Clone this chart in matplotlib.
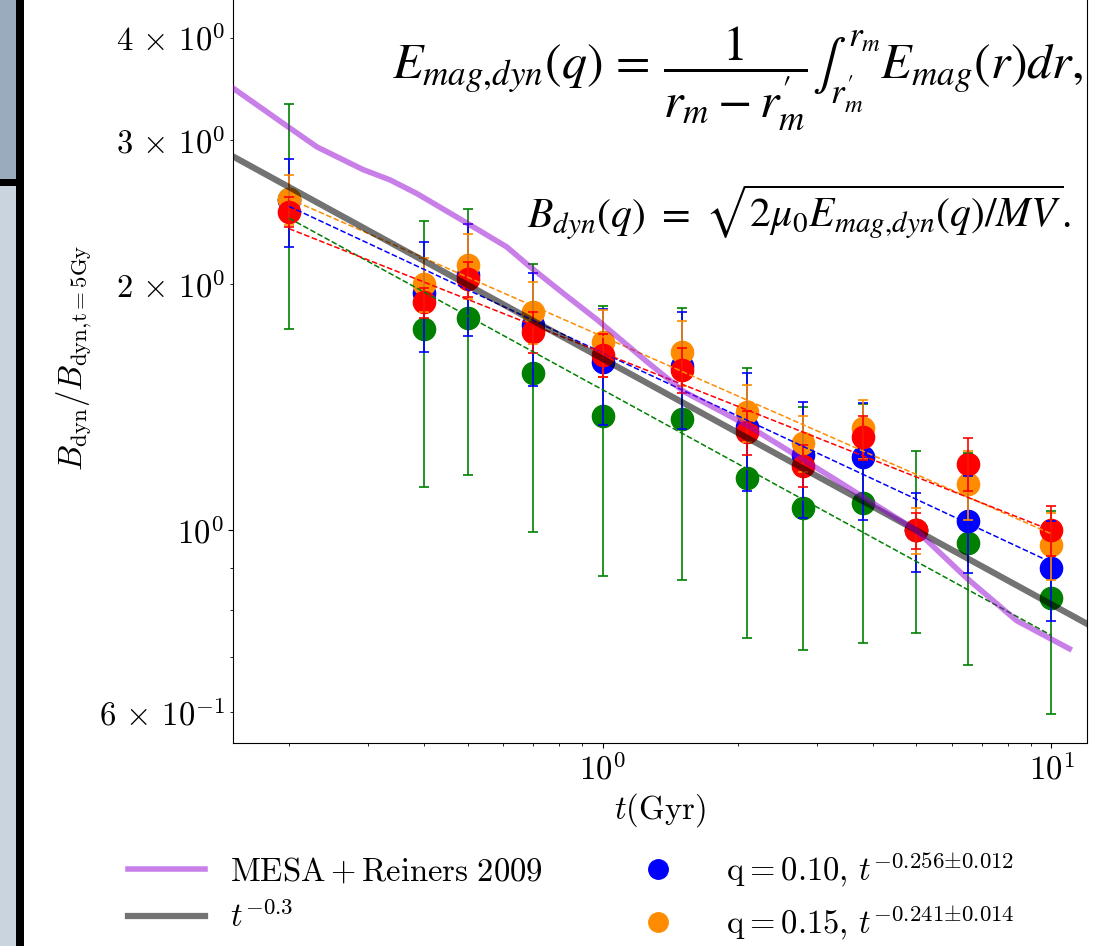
import numpy as np
import matplotlib.pyplot as plt
from matplotlib.patches import Rectangle
from matplotlib.lines import Line2D
from matplotlib.ticker import FuncFormatter

plt.rcParams['font.family'] = 'serif'
plt.rcParams['font.serif'] = ['cmr10']
plt.rcParams['mathtext.fontset'] = 'cm'
plt.rcParams['axes.formatter.use_mathtext'] = True
plt.rcParams['axes.unicode_minus'] = False

# ages (Gyr)
t_age = [0.2, 0.4, 0.5, 0.7, 1.0, 1.5, 2.1, 2.8, 3.8, 5.0, 6.5, 10.0]

# B_dyn / B_dyn(t=5 Gyr) for each q, with errors
q_labels = ['q = 0.05', 'q = 0.10', 'q = 0.15', 'q = 0.20']
q_colors = ['green', 'blue', 'darkorange', 'red']
b_q005 = [2.54, 1.76, 1.82, 1.556, 1.38, 1.37, 1.16, 1.064, 1.079, 1.0, 0.964, 0.826]
b_q010 = [2.53, 1.95, 2.05, 1.78, 1.605, 1.59, 1.336, 1.235, 1.23, 1.0, 1.026, 0.901]
b_q015 = [2.54, 2.00, 2.11, 1.85, 1.70, 1.65, 1.394, 1.278, 1.333, 1.0, 1.14, 0.959]
b_q020 = [2.45, 1.90, 2.03, 1.746, 1.64, 1.57, 1.318, 1.20, 1.30, 1.0, 1.207, 1.0]
e_q005 = [0.78, 0.63, 0.65, 0.56, 0.50, 0.50, 0.42, 0.35, 0.35, 0.25, 0.28, 0.23]
e_q010 = [0.31, 0.30, 0.32, 0.28, 0.26, 0.26, 0.22, 0.20, 0.20, 0.11, 0.14, 0.125]
e_q015 = [0.18, 0.15, 0.19, 0.16, 0.16, 0.15, 0.11, 0.10, 0.11, 0.065, 0.11, 0.09]
e_q020 = [0.105, 0.08, 0.10, 0.10, 0.10, 0.10, 0.08, 0.07, 0.08, 0.05, 0.09, 0.07]

# power-law fits A * t^-p
fit_amp = [1.485, 1.648, 1.725, 1.648]
fit_exp = [0.300, 0.256, 0.241, 0.217]
fit_err = [0.020, 0.012, 0.014, 0.013]

# MESA + Reiners 2009 curve
mesa_t = [0.150, 0.201, 0.231, 0.292, 0.336, 0.385, 0.488, 0.611, 0.688, 0.815,
          0.97, 1.25, 1.51, 2.12, 3.25, 5.0, 6.45, 8.36, 10.96]
mesa_b = [3.47, 3.10, 2.94, 2.76, 2.68, 2.58, 2.39, 2.22, 2.10, 1.95,
          1.81, 1.61, 1.48, 1.34, 1.16, 1.0, 0.876, 0.776, 0.717]

FS = 23.5
W, H = 1115, 946
def fx(x):
    return x / W
def fy(y):
    return 1 - y / H

fig = plt.figure(figsize=(W / 100, H / 100), dpi=100)

# slide background on the left
fig.add_artist(Rectangle((0, fy(179)), fx(16), 1 - fy(179), transform=fig.transFigure,
                         color='#9aabbd', lw=0))
fig.add_artist(Rectangle((0, 0), fx(16), fy(186), transform=fig.transFigure,
                         color='#c9d4de', lw=0))
fig.add_artist(Rectangle((0, fy(186)), fx(16), fy(179) - fy(186), transform=fig.transFigure,
                         color='black', lw=0))
fig.add_artist(Rectangle((fx(16), 0), fx(8), 1, transform=fig.transFigure,
                         color='black', lw=0))

ylo, yhi = 0.55, 4.8
y0, dec = 530, 818
top_px = y0 - np.log10(yhi) * dec
ax = fig.add_axes([fx(233), fy(743), fx(1087 - 233), (743 - top_px) / H])
ax.set_xscale('log')
ax.set_yscale('log')
ax.set_xlim(0.15, 12)
ax.set_ylim(ylo, yhi)

series_b = [b_q005, b_q010, b_q015, b_q020]
series_e = [e_q005, e_q010, e_q015, e_q020]

for b, c in zip(series_b, q_colors):
    ax.plot(t_age, b, 'o', color=c, ms=16, zorder=2)
for b, e, c in zip(series_b, series_e, q_colors):
    ax.errorbar(t_age, b, yerr=e, fmt='none', ecolor=c, elinewidth=1.2,
                capsize=3.5, capthick=1.2, zorder=2.5)

tt = np.array([t_age[0], t_age[-1]])
for A, p, c in zip(fit_amp, fit_exp, q_colors):
    ax.plot(tt, A * tt ** (-p), '--', color=c, lw=1.1, zorder=3)

tg = np.array([0.15, 12])
ax.plot(tg, (tg / 5.0) ** (-0.3), color='k', alpha=0.55, lw=4.5, zorder=4)
ax.plot(mesa_t, mesa_b, color='darkviolet', alpha=0.5, lw=4, zorder=5)


def ylog_fmt(v, pos):
    e = int(np.floor(np.log10(v) + 1e-9))
    c = int(round(v / 10 ** e))
    if c == 1:
        return r'$10^{%d}$' % e
    if c in (2, 3, 4, 6):
        return r'$%d\,\times\,10^{%d}$' % (c, e)
    return ''


ax.yaxis.set_major_formatter(FuncFormatter(ylog_fmt))
ax.yaxis.set_minor_formatter(FuncFormatter(ylog_fmt))
ax.tick_params(which='both', labelsize=FS)
ax.set_xlabel(r'$t(\rm Gyr)$', fontsize=FS)
ax.set_ylabel(r'$B_{\rm dyn}/B_{\rm dyn{,}t{=}5Gy}$', fontsize=FS)

handles = [Line2D([], [], color='darkviolet', alpha=0.5, lw=4),
           Line2D([], [], color='k', alpha=0.55, lw=4.5),
           Line2D([], [], ls='none', marker='o', color=q_colors[1], ms=14),
           Line2D([], [], ls='none', marker='o', color=q_colors[2], ms=14)]
labels = [r'$\mathrm{MESA + Reiners\ 2009}$', r'$t^{-0.3}$',
          r'$\,\mathrm{q} = 0.10,\,t^{-%.3f{\pm}%.3f}$' % (fit_exp[1], fit_err[1]),
          r'$\,\mathrm{q} = 0.15,\,t^{-%.3f{\pm}%.3f}$' % (fit_exp[2], fit_err[2])]
fig.legend(handles, labels, loc='upper left', bbox_to_anchor=(fx(128), fy(850)),
           bbox_transform=fig.transFigure, ncol=2, frameon=False, fontsize=FS,
           borderpad=0, borderaxespad=0, handlelength=2.36, handletextpad=0.77,
           columnspacing=2.35, labelspacing=0.45)

# equations overlaid on the slide
fig.text(fx(392), fy(78),
         r'$E_{mag{,}dyn}(q)\, =\, \dfrac{1}{r_m - r^{\prime}_m}\int_{r^{\prime}_m}^{r_m} E_{mag}(r)dr,$',
         fontsize=36, ha='left', va='center', math_fontfamily='stix')
fig.text(fx(527), fy(212),
         r'$B_{dyn}(q)\ =\ \sqrt{2\mu_0 E_{mag{,}dyn}(q)/MV}.$',
         fontsize=30, ha='left', va='center', math_fontfamily='stix')

fig.savefig('out.png', dpi=100)
